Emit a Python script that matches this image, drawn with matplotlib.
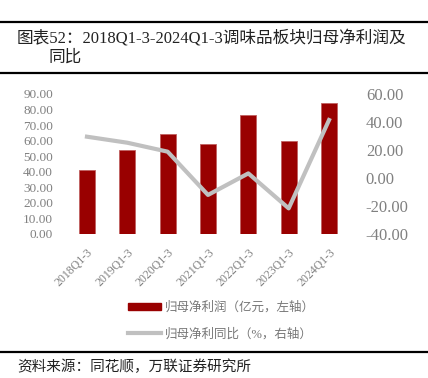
import matplotlib
matplotlib.use("Agg")
import matplotlib.pyplot as plt
from matplotlib.lines import Line2D
from matplotlib.patches import Patch

plt.rcParams['font.family'] = ['Liberation Serif', 'Noto Sans CJK SC', 'DejaVu Sans']

# datos
periodos = ["2018Q1-3", "2019Q1-3", "2020Q1-3", "2021Q1-3", "2022Q1-3", "2023Q1-3", "2024Q1-3"]
beneficio = [40.9, 54.0, 64.3, 57.6, 76.5, 59.8, 84.4]   # 亿元, eje izq
variacion = [29.5, 25.2, 18.8, -12.1, 3.3, -21.7, 41.4]  # %, eje der

W, H = 428, 378
fig = plt.figure(figsize=(W / 100, H / 100), dpi=100)

# eje principal en pixeles
x0, x1, ytop, ybot = 66.8, 349.2, 94, 234
ax = fig.add_axes([x0 / W, 1 - ybot / H, (x1 - x0) / W, (ybot - ytop) / H])
ax2 = ax.twinx()

pos = list(range(len(periodos)))
ax.bar(pos, beneficio, width=0.4, color="#990000", edgecolor="#c06060", linewidth=0.6, zorder=2)
ax2.plot(pos, variacion, color="#c0c0c0", linewidth=3, zorder=3)

ax.set_xlim(-0.5, len(periodos) - 0.5)
ax.set_ylim(0, 90)
ax2.set_ylim(-40, 60)
ax.set_yticks(range(0, 91, 10))
ax.set_yticklabels([f"{v:.2f}" for v in range(0, 91, 10)], fontsize=9.5, color="#808080")
ax2.set_yticks(range(-40, 61, 20))
ax2.set_yticklabels([f"{v:.2f}" for v in range(-40, 61, 20)], fontsize=12, color="#808080")
ax.set_xticks(pos)
ax.set_xticklabels(periodos, rotation=45, ha="right", rotation_mode="anchor",
                   fontsize=8.5, color="#808080")

for a in (ax, ax2):
    for s in a.spines.values():
        s.set_visible(False)
    a.tick_params(length=0)
ax.tick_params(axis="x", pad=9)
ax.tick_params(axis="y", pad=10)
ax2.tick_params(axis="y", pad=12)

# leyenda
handles = [Patch(facecolor="#990000", edgecolor="#990000"),
           Line2D([0], [0], color="#c0c0c0", linewidth=3)]
labels = ["归母净利润（亿元，左轴）", "归母净利同比（%，右轴）"]
fig.legend(handles, labels, loc="center left", bbox_to_anchor=(117 / W, 1 - 321 / H),
           frameon=False, fontsize=9, labelcolor="#777777", handlelength=2.6,
           handleheight=0.5, labelspacing=1.1, handletextpad=0.3)

# titulo y lineas
fig.text(17 / W, 1 - 38 / H, "图表52：2018Q1-3-2024Q1-3调味品板块归母净利润及",
         fontsize=12, va="center", ha="left", color="#222222")
fig.text(48 / W, 1 - 58 / H, "同比", fontsize=12, va="center", ha="left", color="#222222")
for yy in (22, 73, 352):
    fig.add_artist(Line2D([0, 1], [1 - yy / H, 1 - yy / H], color="black", linewidth=1.6))
fig.text(17 / W, 1 - 367 / H, "资料来源：同花顺，万联证券研究所", fontsize=10.5,
         va="center", ha="left", color="#222222")

fig.savefig("out.png", dpi=100)
